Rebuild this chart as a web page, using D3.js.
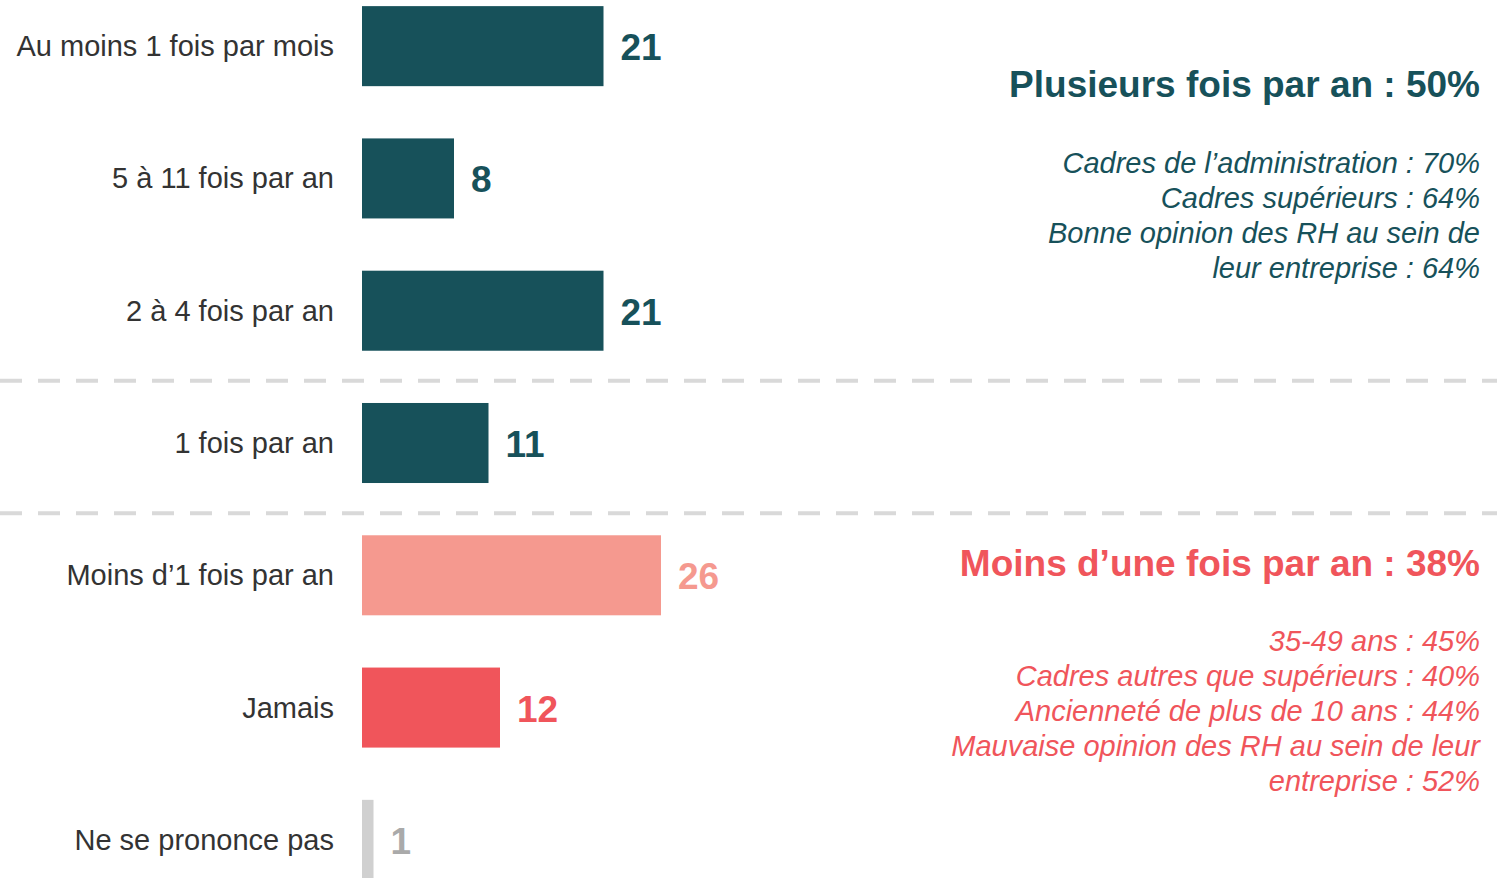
<!DOCTYPE html>
<html>
<head>
<meta charset="utf-8">
<script src="https://cdn.jsdelivr.net/npm/d3@7"></script>
<style>
  body { margin: 0; background: #fff; }
  svg { display: block; font-family: "Liberation Sans", Arial, sans-serif; }
</style>
</head>
<body>
<div id="chart"></div>
<script>
// ----- Data -----
const categories = [
  "Au moins 1 fois par mois",
  "5 à 11 fois par an",
  "2 à 4 fois par an",
  "1 fois par an",
  "Moins d\u20191 fois par an",
  "Jamais",
  "Ne se prononce pas"
];
const values = [21, 8, 21, 11, 26, 12, 1];
const barColors = ["#17515a", "#17515a", "#17515a", "#17515a", "#f5998f", "#f0555b", "#d0d0d0"];
const labelColors = ["#17515a", "#17515a", "#17515a", "#17515a", "#f5998f", "#f0555b", "#aaaaaa"];

// dashed separators sit before these categories
const separatorsBefore = ["1 fois par an", "Moins d\u20191 fois par an"];

const topHeader = "Plusieurs fois par an : 50%";
const topLines = [
  "Cadres de l\u2019administration : 70%",
  "Cadres supérieurs : 64%",
  "Bonne opinion des RH au sein de",
  "leur entreprise : 64%"
];
const bottomHeader = "Moins d\u2019une fois par an : 38%";
const bottomLines = [
  "35-49 ans : 45%",
  "Cadres autres que supérieurs : 40%",
  "Ancienneté de plus de 10 ans : 44%",
  "Mauvaise opinion des RH au sein de leur",
  "entreprise : 52%"
];

const W = 1497, H = 878;
const teal = "#17515a", red = "#f0555b";

const svg = d3.select("#chart").append("svg")
  .attr("width", W)
  .attr("height", H);

// ----- Scales -----
const y = d3.scaleBand()
  .domain(categories)
  .range([-20, 906])
  .paddingInner(0.395)
  .paddingOuter(0.1975);

const x = d3.scaleLinear()
  .domain([0, 26])
  .range([362, 661]);

// ----- Separators -----
separatorsBefore.forEach(c => {
  const yy = y(c) - (y.step() - y.bandwidth()) / 2 + 4;
  svg.append("line")
    .attr("x1", 0).attr("x2", W)
    .attr("y1", yy).attr("y2", yy)
    .attr("stroke", "#d9d9d9")
    .attr("stroke-width", 4)
    .attr("stroke-dasharray", "22,16");
});

// ----- Bars -----
const rows = categories.map((c, i) => ({ c, v: values[i], bar: barColors[i], lab: labelColors[i] }));

svg.selectAll("rect.bar")
  .data(rows)
  .enter().append("rect")
  .attr("class", "bar")
  .attr("x", x(0))
  .attr("y", d => y(d.c))
  .attr("width", d => x(d.v) - x(0))
  .attr("height", y.bandwidth())
  .attr("fill", d => d.bar);

// ----- Category labels -----
svg.selectAll("text.cat")
  .data(rows)
  .enter().append("text")
  .attr("class", "cat")
  .attr("x", 334)
  .attr("y", d => y(d.c) + y.bandwidth() / 2 + 10)
  .attr("text-anchor", "end")
  .style("font-size", "29px")
  .style("fill", "#333333")
  .text(d => d.c);

// ----- Value labels -----
svg.selectAll("text.val")
  .data(rows)
  .enter().append("text")
  .attr("class", "val")
  .attr("x", d => x(d.v) + 17)
  .attr("y", d => y(d.c) + y.bandwidth() / 2 + 14)
  .style("font-size", "37px")
  .style("font-weight", "700")
  .style("fill", d => d.lab)
  .text(d => d.v);

// ----- Side notes -----
function notes(header, lines, color, headerY, firstLineY) {
  svg.append("text")
    .attr("x", 1480)
    .attr("y", headerY)
    .attr("text-anchor", "end")
    .style("font-size", "37px")
    .style("font-weight", "700")
    .style("fill", color)
    .text(header);
  svg.selectAll(null)
    .data(lines)
    .enter().append("text")
    .attr("x", 1480)
    .attr("y", (d, i) => firstLineY + i * 35)
    .attr("text-anchor", "end")
    .style("font-size", "29px")
    .style("font-style", "italic")
    .style("fill", color)
    .text(d => d);
}

notes(topHeader, topLines, teal, 97, 173);
notes(bottomHeader, bottomLines, red, 576, 651);
</script>
</body>
</html>
